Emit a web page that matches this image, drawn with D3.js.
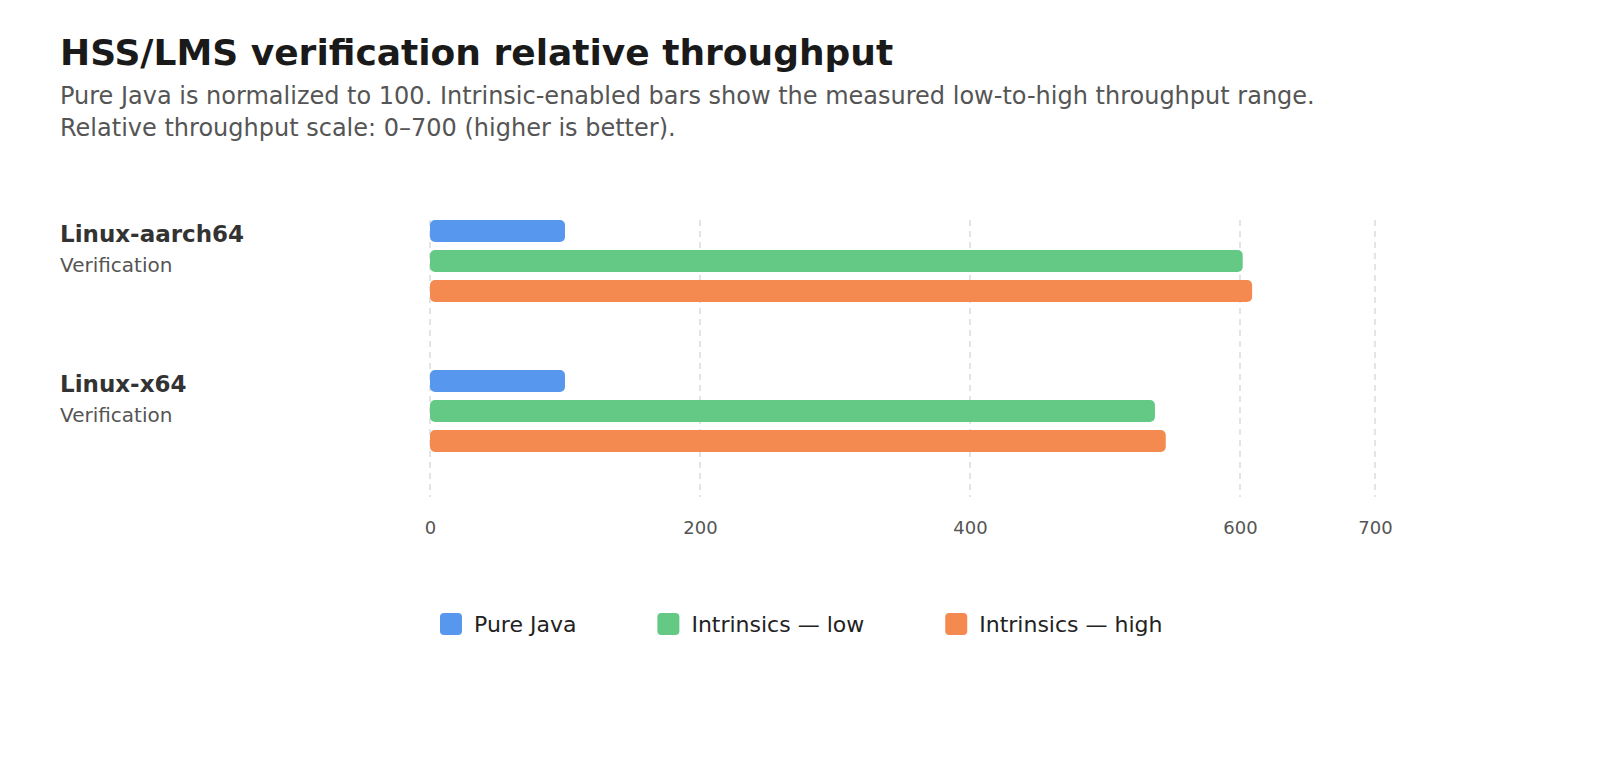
<!DOCTYPE html>
<html>
<head>
<meta charset="utf-8">
<script src="https://cdn.jsdelivr.net/npm/d3@7"></script>
<style>
  html, body { margin: 0; padding: 0; background: #fff; }
  svg { display: block; font-family: "DejaVu Sans", sans-serif; }
</style>
</head>
<body>
<svg id="chart" width="1600" height="760"></svg>
<script>
const platforms = ["Linux-aarch64", "Linux-x64"];
const subLabels = ["Verification", "Verification"];
const seriesNames = ["Pure Java", "Intrinsics — low", "Intrinsics — high"];
const seriesColors = ["#5797ed", "#63c984", "#f48a4f"];
const pureJava = [100, 100];
const intrinsicsLow = [602, 537];
const intrinsicsHigh = [609, 545];
const tickValues = [0, 200, 400, 600, 700];

const svg = d3.select("#chart");

svg.append("text").attr("x", 60).attr("y", 65)
  .attr("font-size", 36).attr("font-weight", "bold").attr("fill", "#1a1a1a")
  .text("HSS/LMS verification relative throughput");
svg.append("text").attr("x", 60).attr("y", 104)
  .attr("font-size", 24).attr("fill", "#555")
  .text("Pure Java is normalized to 100. Intrinsic-enabled bars show the measured low-to-high throughput range.");
svg.append("text").attr("x", 60).attr("y", 136)
  .attr("font-size", 24).attr("fill", "#555")
  .text("Relative throughput scale: 0–700 (higher is better).");

const x = d3.scaleLinear().domain([0, 700]).range([430, 1375]);
const groupY = d3.scaleBand().domain(platforms).range([220, 520]).paddingInner(0).paddingOuter(0);
const barY = d3.scaleBand().domain(seriesNames).range([0, 82]).paddingInner(8 / 30);

// grid
const grid = svg.append("g");
grid.selectAll("line").data(tickValues).join("line")
  .attr("x1", d => x(d)).attr("x2", d => x(d))
  .attr("y1", 220).attr("y2", 497)
  .attr("stroke", "#dcdcdc").attr("stroke-width", 1.5)
  .attr("stroke-dasharray", "6,5");

// axis labels
const axis = d3.axisBottom(x).tickValues(tickValues).tickSize(0).tickPadding(0);
const ag = svg.append("g").attr("transform", "translate(0,521)").call(axis);
ag.select(".domain").remove();
ag.selectAll("text").attr("font-size", 18).attr("fill", "#555")
  .attr("font-family", "DejaVu Sans, sans-serif").attr("dy", "0.71em");

const seriesData = [pureJava, intrinsicsLow, intrinsicsHigh];
platforms.forEach((p, i) => {
  const g = svg.append("g").attr("transform", `translate(0,${groupY(p)})`);
  g.selectAll("rect").data(seriesNames).join("rect")
    .attr("x", x(0))
    .attr("y", s => barY(s))
    .attr("width", (s, j) => x(seriesData[j][i]) - x(0))
    .attr("height", barY.bandwidth())
    .attr("rx", 5).attr("ry", 5)
    .attr("fill", (s, j) => seriesColors[j]);
  g.append("text").attr("x", 60).attr("y", 22)
    .attr("font-size", 23).attr("font-weight", "bold").attr("fill", "#333")
    .text(p);
  g.append("text").attr("x", 60).attr("y", 52)
    .attr("font-size", 20).attr("fill", "#555")
    .text(subLabels[i]);
});

// legend
const legend = svg.append("g").attr("transform", "translate(440,613)");
let lx = 0;
seriesNames.forEach((s, j) => {
  const item = legend.append("g").attr("transform", `translate(${lx},0)`);
  item.append("rect").attr("width", 22).attr("height", 22).attr("rx", 4)
    .attr("fill", seriesColors[j]);
  const t = item.append("text").attr("x", 34).attr("y", 19)
    .attr("font-size", 22).attr("fill", "#222").text(s);
  lx += 34 + t.node().getComputedTextLength() + 81;
});
</script>
</body>
</html>
